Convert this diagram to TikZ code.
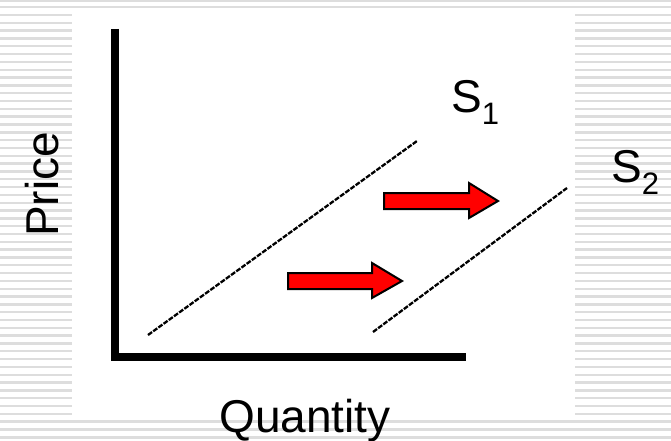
\documentclass[tikz,border=0pt]{standalone}
\usepackage{fontspec}
\setmainfont{Liberation Sans}
\definecolor{stripe}{HTML}{DDDDDD}
\definecolor{shiftred}{HTML}{FF0000}
\begin{document}
\begin{tikzpicture}[x=1pt,y=-1pt]
  \def\big{\fontsize{46}{50}\selectfont}
  \def\sub#1{\raisebox{-12pt}{\fontsize{31}{31}\selectfont #1}}
  \useasboundingbox (0,0) rectangle (671,441);
  % striped background with the white slide area
  \fill[stripe] (0,0) rectangle (671,2.4);
  \foreach \i in {0,...,55}
    \fill[stripe] (0,6+7.82*\i) rectangle (671,8.4+7.82*\i);
  \fill[white] (72,8.6) rectangle (575,420);
  % axes
  \draw[line width=8pt,line join=miter] (114.5,29)--(114.5,356.5)--(466,356.5);
  % supply curves
  \draw[line width=2.3pt,dash pattern=on 5pt off 1.4pt] (148,335)--(417,141);
  \draw[line width=2.3pt,dash pattern=on 5pt off 1.4pt] (373,332)--(567,188);
  % shift arrows
  \draw[fill=shiftred,line width=2pt,line join=miter]
    (384,193)--(469,193)--(469,183)--(498,201)--(469,218)--(469,209)--(384,209)--cycle;
  \draw[fill=shiftred,line width=2pt,line join=miter]
    (288,273)--(372,273)--(372,263)--(402,281)--(372,298)--(372,289)--(288,289)--cycle;
  % labels
  \node[anchor=base west,inner sep=0pt,font=\big] (s1) at (451,113) {S\sub{1}};
  \node[anchor=base west,inner sep=0pt,font=\big] (s2) at (611,182) {S\sub{2}};
  \node[anchor=base,inner sep=0pt,font=\big,rotate=90] (price) at (58,184.5) {Price};
  \node[anchor=base,inner sep=0pt,font=\big] (qty) at (305,432) {Quantity};
\end{tikzpicture}
\end{document}
